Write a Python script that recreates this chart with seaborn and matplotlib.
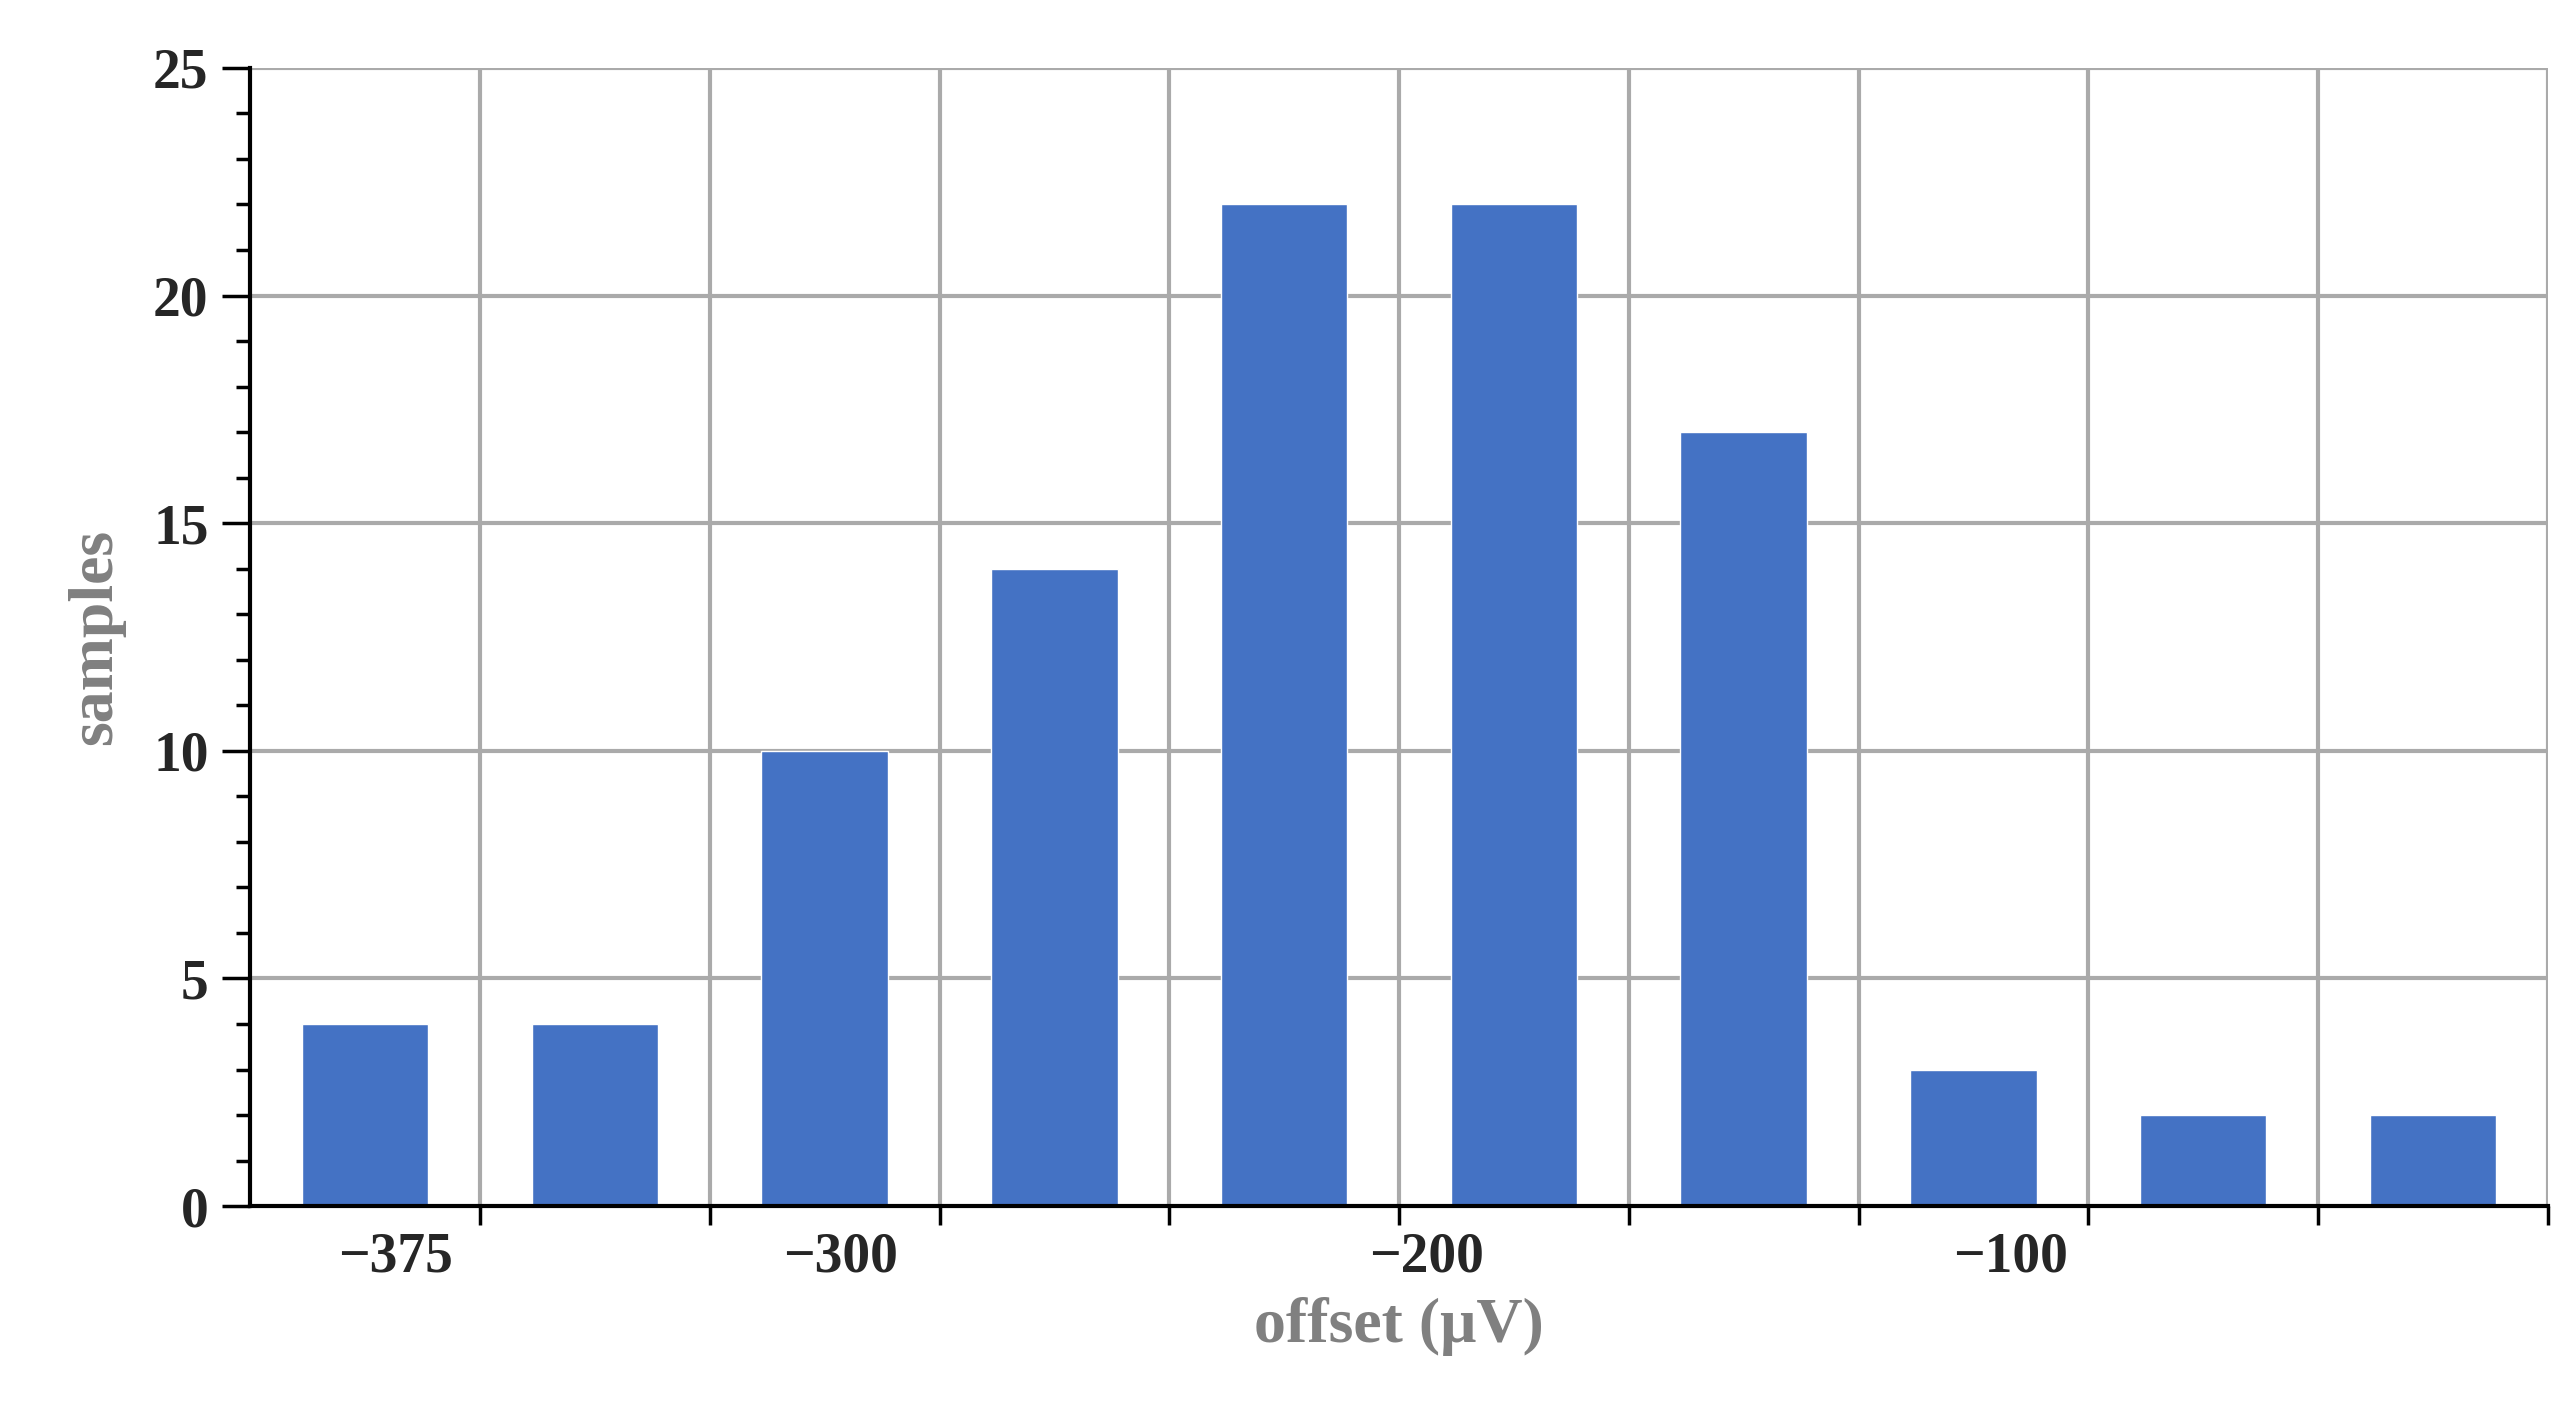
import matplotlib
matplotlib.use("Agg")
import matplotlib.pyplot as plt
import seaborn as sns
import pandas as pd
import numpy as np
from matplotlib.ticker import MultipleLocator

bins = ["b1","b2","b3","b4","b5","b6","b7","b8","b9","b10"]
counts = [4, 4, 10, 14, 22, 22, 17, 3, 2, 2]
xtick_labels = ["\u2212375", "\u2212300", "\u2212200", "\u2212100"]
xtick_pos = [0.13, 2.07, 4.62, 7.16]

sns.set_theme(style="white")
plt.rcParams['font.family'] = ['Liberation Serif', 'DejaVu Serif']
plt.rcParams['font.weight'] = 'bold'

fig = plt.figure(figsize=(25.67, 14.14), dpi=100)
ax = fig.add_axes([0.0975, 0.147, 0.895, 0.805])
df = pd.DataFrame({"bin": bins, "count": counts})
sns.barplot(data=df, x="bin", y="count", color="#4472C4", width=0.55, saturation=1, ax=ax, zorder=3)

ax.set_xlim(-0.5, 9.5)
ax.set_ylim(0, 25)
for b in np.arange(0.5, 9.6, 1):
    ax.axvline(b, color="#AAAAAA", lw=3, zorder=1)
for y in range(5, 26, 5):
    ax.axhline(y, color="#AAAAAA", lw=3, zorder=1)
ax.set_xticks(xtick_pos)
ax.set_xticklabels(xtick_labels, fontsize=40, fontweight='bold')
ax.set_xticks(np.arange(0.5, 9.6, 1), minor=True)
ax.tick_params(axis='x', which='major', length=0, pad=18)
ax.tick_params(axis='x', which='minor', length=14, width=2.5, direction='out', color='black', bottom=True)
ax.yaxis.set_major_locator(MultipleLocator(5))
ax.yaxis.set_minor_locator(MultipleLocator(1))
ax.tick_params(axis='y', which='major', length=20, width=2.5, direction='out', color='black', left=True, labelsize=40, pad=10)
ax.tick_params(axis='y', which='minor', length=10, width=2.5, direction='out', color='black', left=True)
for lab in ax.get_yticklabels():
    lab.set_fontweight('bold')
for s in ['top', 'right']:
    ax.spines[s].set_visible(False)
for s in ['left', 'bottom']:
    ax.spines[s].set_color('black')
    ax.spines[s].set_linewidth(3)
    ax.spines[s].set_zorder(4)
ax.set_xlabel("offset (\u03bcV)", fontsize=46, fontweight='bold', color='#808080', labelpad=10)
ax.set_ylabel("samples", fontsize=46, fontweight='bold', color='#808080', labelpad=20)
fig.savefig("out.png", dpi=100)
